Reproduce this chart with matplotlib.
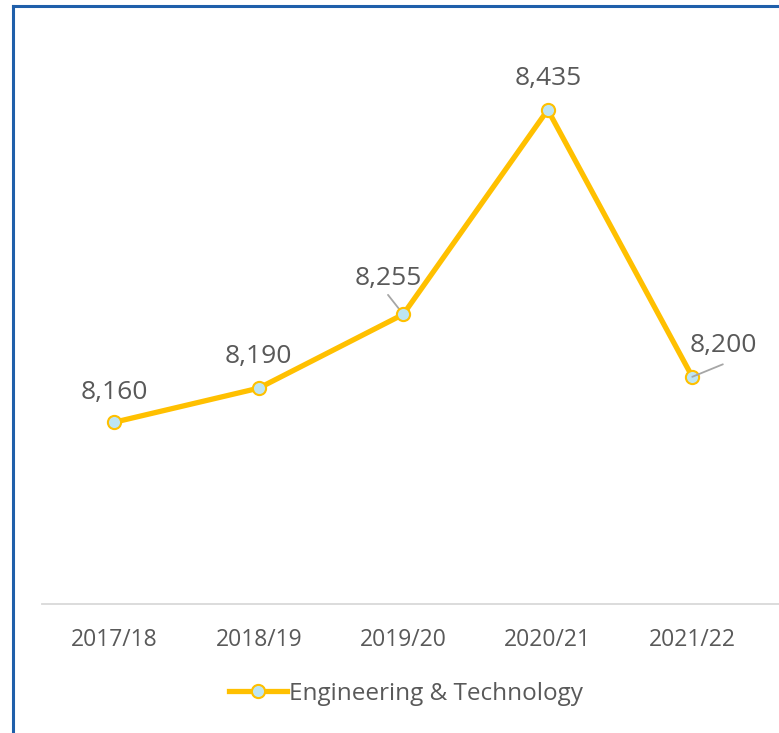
import matplotlib.pyplot as plt
from matplotlib.lines import Line2D

years = ["2017/18", "2018/19", "2019/20", "2020/21", "2021/22"]
students = [8160, 8190, 8255, 8435, 8200]
series_name = "Engineering & Technology"

W, H = 779, 733
plt.rcParams['font.family'] = ['Open Sans', 'DejaVu Sans']
txt = '#595959'
gold = '#FFC000'

fig = plt.figure(figsize=(W / 100, H / 100), dpi=100)
ax = fig.add_axes([42 / W, (H - 604) / H, (779 - 42) / W, (604 - 36) / H])

x = list(range(len(years)))
ax.plot(x, students, color=gold, lw=3.8, marker='o', ms=9.5,
        mfc='#BDE5F3', mec=gold, mew=1.5, label=series_name, zorder=3,
        solid_joinstyle='miter')

ax.set_xlim(-0.5, 4.6)
ax.set_ylim(8000, 8500)
ax.set_yticks([])
ax.set_xticks(x)
ax.set_xticklabels(years, fontsize=16.5, color=txt)
ax.tick_params(axis='x', length=0, pad=17)
for s in ['top', 'right', 'left']:
    ax.spines[s].set_visible(False)
ax.spines['bottom'].set_color('#D9D9D9')
ax.spines['bottom'].set_linewidth(1.3)

# data labels (offsets in points, baseline)
offsets = [(0, 17), (0, 18), (-11, 21), (0, 18), (22, 18)]
for xi, v, (dx, dy) in zip(x, students, offsets):
    ax.annotate(f"{v:,}", (xi, v), xytext=(dx, dy), textcoords='offset points',
                ha='center', va='baseline', fontsize=19, color=txt)

# leader lines
ax.annotate("", (2, 8255), xytext=(-11, 14), textcoords='offset points',
            arrowprops=dict(arrowstyle='-', color='#A6A6A6', lw=1.3,
                            shrinkA=0, shrinkB=0), zorder=2)
ax.annotate("", (4, 8200), xytext=(22, 9), textcoords='offset points',
            arrowprops=dict(arrowstyle='-', color='#A6A6A6', lw=1.3,
                            shrinkA=0, shrinkB=0), zorder=4)

leg = fig.legend(loc='center', bbox_to_anchor=(406 / W, (H - 694) / H),
                 frameon=False, fontsize=17.5, handlelength=2.4,
                 handletextpad=0.1, labelcolor=txt)

# partial frame (top and left edges)
blue = '#1F5FAA'
fig.add_artist(Line2D([13 / W, 1], [1 - 6 / H, 1 - 6 / H], color=blue, lw=2.2,
                      transform=fig.transFigure))
fig.add_artist(Line2D([13 / W, 13 / W], [0, 1 - 6 / H], color=blue, lw=2.2,
                      transform=fig.transFigure))

fig.savefig("out.png", dpi=100)
